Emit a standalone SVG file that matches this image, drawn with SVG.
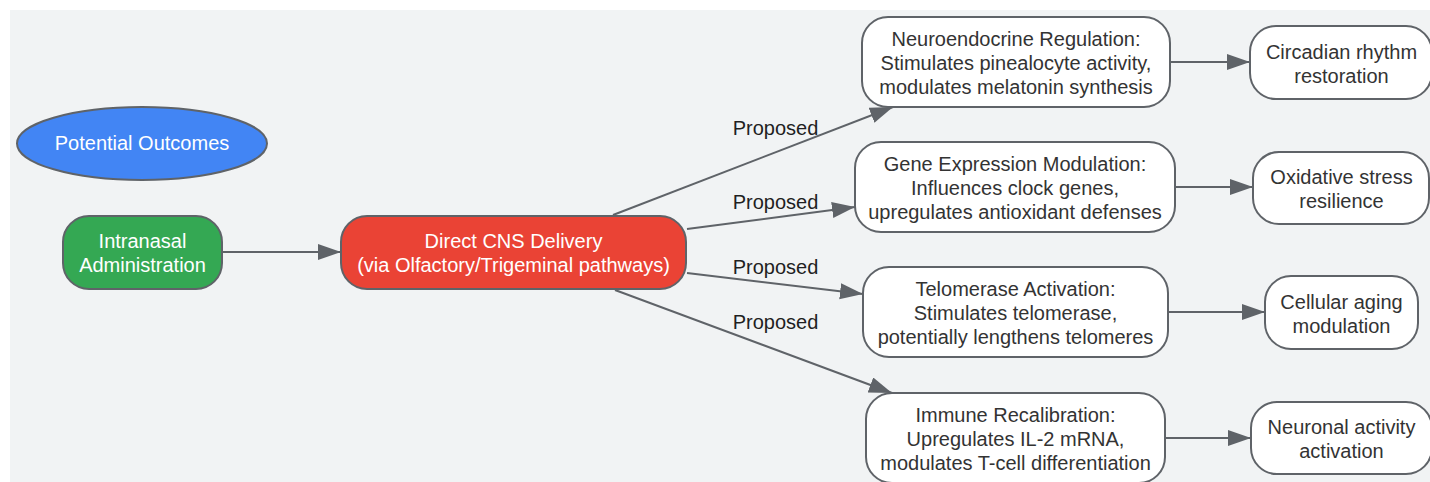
<svg xmlns="http://www.w3.org/2000/svg" width="1430" height="482" viewBox="0 0 1430 482">
<defs>
<marker id="arr" markerUnits="userSpaceOnUse" markerWidth="24" markerHeight="18" refX="23" refY="8" orient="auto">
<path d="M0,0 L23,8 L0,16 z" fill="#5f6368"/>
</marker>
<style>
.edge{stroke:#5f6368;stroke-width:2;fill:none;marker-end:url(#arr)}
.box{stroke:#5f6368;stroke-width:2}
.w{fill:#ffffff}
.t{font-family:"Liberation Sans",Arial,sans-serif;font-size:20px;text-anchor:middle;fill:#333333}
.tw{fill:#ffffff}
.lbl{font-family:"Liberation Sans",Arial,sans-serif;font-size:20px;text-anchor:middle;fill:#1f1f1f}
</style>
</defs>
<rect x="10" y="10" width="1420" height="472" fill="#f1f3f4"/>

<g id="connectors">
<path class="edge" d="M222,252 L341,252"/>
<path class="edge" d="M613,215 L893,107"/>
<path class="edge" d="M687,229 L855,207"/>
<path class="edge" d="M687,273 L863,294"/>
<path class="edge" d="M615,290 L892,393"/>
<path class="edge" d="M1170,62 L1250,62"/>
<path class="edge" d="M1175,187 L1253,187"/>
<path class="edge" d="M1168,312 L1265,312"/>
<path class="edge" d="M1165,438 L1251,438"/>
<text class="lbl" x="775.5" y="135">Proposed</text>
<text class="lbl" x="775.5" y="209">Proposed</text>
<text class="lbl" x="775.5" y="274">Proposed</text>
<text class="lbl" x="775.5" y="329">Proposed</text>
</g>

<g id="potential-outcomes">
<ellipse class="box" cx="142" cy="143.5" rx="125" ry="36.5" fill="#4285f4"/>
<text class="t tw" x="142" y="150">Potential Outcomes</text>
</g>

<g id="intranasal">
<rect class="box" x="63" y="216" width="159" height="73" rx="26" fill="#34a853"/>
<text class="t tw" x="142.5" y="247.5">Intranasal</text>
<text class="t tw" x="142.5" y="271.5">Administration</text>
</g>

<g id="cns-delivery">
<rect class="box" x="341" y="216" width="345" height="73" rx="26" fill="#ea4335"/>
<text class="t tw" x="513.5" y="247.5">Direct CNS Delivery</text>
<text class="t tw" x="513.5" y="271.5">(via Olfactory/Trigeminal pathways)</text>
</g>

<g id="neuroendocrine">
<rect class="box w" x="862" y="17" width="308" height="90" rx="26"/>
<text class="t" x="1016" y="46">Neuroendocrine Regulation:</text>
<text class="t" x="1016" y="70">Stimulates pinealocyte activity,</text>
<text class="t" x="1016" y="94">modulates melatonin synthesis</text>
</g>

<g id="gene-expression">
<rect class="box w" x="855" y="142" width="320" height="90" rx="26"/>
<text class="t" x="1015" y="170.5">Gene Expression Modulation:</text>
<text class="t" x="1015" y="194.5">Influences clock genes,</text>
<text class="t" x="1015" y="218.5">upregulates antioxidant defenses</text>
</g>

<g id="telomerase">
<rect class="box w" x="863" y="267" width="305" height="90" rx="26"/>
<text class="t" x="1015.5" y="296">Telomerase Activation:</text>
<text class="t" x="1015.5" y="320">Stimulates telomerase,</text>
<text class="t" x="1015.5" y="344">potentially lengthens telomeres</text>
</g>

<g id="immune">
<rect class="box w" x="866" y="393" width="299" height="90" rx="26"/>
<text class="t" x="1015.5" y="421.5">Immune Recalibration:</text>
<text class="t" x="1015.5" y="445.5">Upregulates IL-2 mRNA,</text>
<text class="t" x="1015.5" y="469.5">modulates T-cell differentiation</text>
</g>

<g id="circadian">
<rect class="box w" x="1250" y="26" width="182" height="73" rx="26"/>
<text class="t" x="1341.5" y="58.5">Circadian rhythm</text>
<text class="t" x="1341.5" y="82.5">restoration</text>
</g>

<g id="oxidative">
<rect class="box w" x="1253" y="152" width="176" height="72" rx="26"/>
<text class="t" x="1341.5" y="184">Oxidative stress</text>
<text class="t" x="1341.5" y="208">resilience</text>
</g>

<g id="cellular-aging">
<rect class="box w" x="1265" y="276" width="153" height="73" rx="26"/>
<text class="t" x="1341.5" y="308.5">Cellular aging</text>
<text class="t" x="1341.5" y="332.5">modulation</text>
</g>

<g id="neuronal">
<rect class="box w" x="1251" y="402" width="181" height="72" rx="26"/>
<text class="t" x="1341.5" y="434">Neuronal activity</text>
<text class="t" x="1341.5" y="458">activation</text>
</g>
</svg>
